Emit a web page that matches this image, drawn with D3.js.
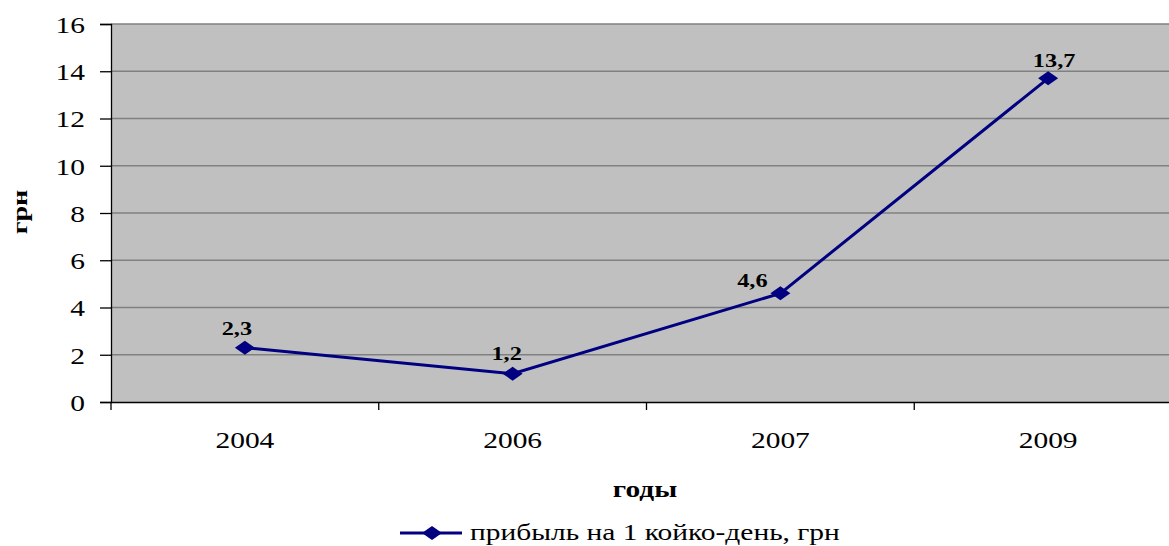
<!DOCTYPE html>
<html><head><meta charset="utf-8">
<script src="https://cdn.jsdelivr.net/npm/d3@7/dist/d3.min.js"></script>
<style>body{margin:0;background:#fff;overflow:hidden}svg{display:block}
svg text{font-family:"Liberation Serif","Times New Roman",Times,"DejaVu Serif",serif !important}</style>
</head><body>
<script>
const years = ["2004", "2006", "2007", "2009"];
const values = [2.3, 1.2, 4.6, 13.7];
const valueLabels = ["2,3", "1,2", "4,6", "13,7"];
const yTicks = [0, 2, 4, 6, 8, 10, 12, 14, 16];
const seriesName = "прибыль на 1 койко-день, грн";
const xTitle = "годы";
const yTitle = "грн";

const W = 1169, H = 546;
const m = {left: 111, top: 24, right: 1182, bottom: 402};
const svg = d3.select("body").append("svg").attr("width", W).attr("height", H);
const STRETCH = 1.28;

const x = d3.scaleBand().domain(years).range([m.left, m.right]);
const y = d3.scaleLinear().domain([0, 16]).range([m.bottom, m.top]);

svg.append("rect").attr("x", m.left).attr("y", m.top)
  .attr("width", m.right - m.left).attr("height", m.bottom - m.top).attr("fill", "#c0c0c0");

svg.append("g").selectAll("line").data(yTicks.filter(d => d > 0)).join("line")
  .attr("x1", m.left).attr("x2", m.right).attr("y1", d => y(d)).attr("y2", d => y(d))
  .attr("stroke", "#808080").attr("stroke-width", 1.3);

const ya = svg.append("g").attr("transform", `translate(${m.left},0)`)
  .call(d3.axisLeft(y).tickValues(yTicks).tickSize(11).tickPadding(15).tickFormat(d3.format("d")));
ya.select(".domain").attr("stroke", "#000").attr("stroke-width", 1.3);
ya.selectAll(".tick line").attr("stroke", "#000").attr("stroke-width", 1.3);
ya.selectAll("text").attr("font-size", 23).attr("fill", "#000").attr("dy", "0.36em");

const xa = svg.append("g").attr("transform", `translate(0,${m.bottom})`)
  .call(d3.axisBottom(x).tickSize(0).tickPadding(30));
xa.select(".domain").attr("stroke", "#000").attr("stroke-width", 1.3);
xa.selectAll("text").attr("font-size", 23).attr("fill", "#000");
svg.append("g").selectAll("line").data(years).join("line")
  .attr("x1", d => x(d)).attr("x2", d => x(d))
  .attr("y1", m.bottom).attr("y2", m.bottom + 8)
  .attr("stroke", "#000").attr("stroke-width", 1.3);

const cx = (d, i) => x(years[i]) + x.bandwidth() / 2;
const line = d3.line().x((d, i) => cx(d, i)).y(d => y(d));
svg.append("path").datum(values).attr("d", line)
  .attr("fill", "none").attr("stroke", "#000080").attr("stroke-width", 3);

const diamond = "M-10,0L0,-7L10,0L0,7Z";
svg.append("g").selectAll("path").data(values).join("path")
  .attr("d", diamond)
  .attr("transform", (d, i) => `translate(${cx(d, i)},${y(d)})`)
  .attr("fill", "#000080");

const labelDx = [-8, -6, -28, 6];
const labelDy = [-13, -14, -6, -11];
svg.append("g").selectAll("text").data(values).join("text")
  .attr("x", (d, i) => cx(d, i) + labelDx[i])
  .attr("y", (d, i) => y(d) + labelDy[i])
  .attr("text-anchor", "middle")
  .attr("font-weight", "bold").attr("font-size", 19)
  .text((d, i) => valueLabels[i]);

svg.append("text").attr("x", 645).attr("y", 497).attr("text-anchor", "middle")
  .attr("font-weight", "bold").attr("font-size", 23).text(xTitle);

svg.append("text").attr("transform", "translate(27,212) rotate(-90)").attr("text-anchor", "middle")
  .attr("font-weight", "bold").attr("font-size", 22).text(yTitle);

const lg = svg.append("g");
lg.append("line").attr("x1", 400).attr("x2", 462).attr("y1", 533).attr("y2", 533)
  .attr("stroke", "#000080").attr("stroke-width", 3);
lg.append("path").attr("d", diamond).attr("transform", "translate(432,533)").attr("fill", "#000080");
lg.append("text").attr("x", 470).attr("y", 540).attr("font-size", 23)
  .text(seriesName);

// horizontal stretch of glyphs like the reference
svg.selectAll("text").each(function() {
  const len = this.getComputedTextLength();
  d3.select(this).attr("textLength", len * STRETCH).attr("lengthAdjust", "spacingAndGlyphs");
});
</script>
</body></html>
